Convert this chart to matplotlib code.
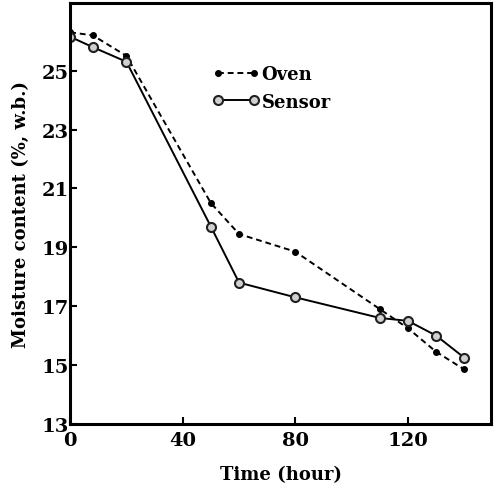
import numpy as np
import matplotlib.pyplot as plt

# Datos
time_h = [0, 8, 20, 50, 60, 80, 110, 120, 130, 140]
oven = [26.3, 26.2, 25.5, 20.5, 19.45, 18.85, 16.9, 16.25, 15.45, 14.85]
sensor = [26.15, 25.8, 25.3, 19.7, 17.8, 17.3, 16.6, 16.5, 16.0, 15.25]

xticks = [0, 40, 80, 120]
yticks = [13, 15, 17, 19, 21, 23, 25]

plt.rcParams['font.family'] = ['DejaVu Serif']
plt.rcParams['font.weight'] = 'bold'

fig = plt.figure(figsize=(4.94, 4.89), dpi=100)
ax = fig.add_axes([0.142, 0.131, 0.852, 0.861])

ax.plot(time_h, oven, linestyle=(0, (3, 2)), color='black', lw=1.4,
        marker='o', markersize=4, markerfacecolor='black', label='Oven')
ax.plot(time_h, sensor, linestyle='-', color='black', lw=1.4,
        marker='o', markersize=6.5, markerfacecolor='#d0d0d0',
        markeredgecolor='#202020', markeredgewidth=1.5, label='Sensor')

ax.set_xlim(0, 149.5)
ax.set_ylim(13, 27.3)
ax.set_xticks(xticks)
ax.set_yticks(yticks)
ax.tick_params(direction='in', length=5, width=1.5, labelsize=14)
ax.tick_params(axis='x', pad=5)
ax.tick_params(axis='y', pad=1)
for s in ax.spines.values():
    s.set_linewidth(2.2)

ax.set_xlabel('Time (hour)', fontsize=13, fontweight='bold', labelpad=12)
ax.set_ylabel('Moisture content (%, w.b.)', fontsize=13, fontweight='bold', labelpad=8)

ax.legend(loc='upper left', bbox_to_anchor=(0.3, 0.89), frameon=False,
          numpoints=2, handlelength=2.6, handletextpad=0.1, fontsize=13,
          labelspacing=0.5)

plt.savefig('out.png', dpi=100)
